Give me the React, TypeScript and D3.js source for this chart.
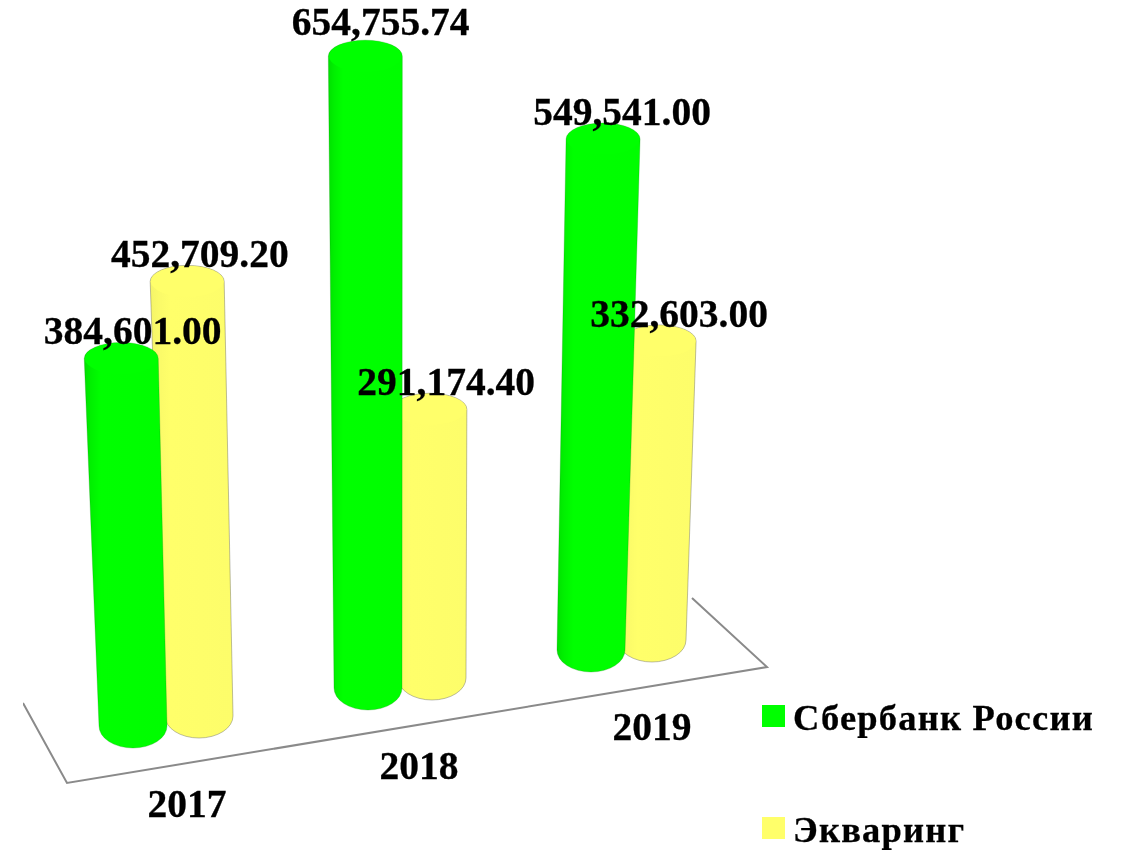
import React from 'react'
import * as d3 from 'd3'

const categories = ['2017', '2018', '2019']
const seriesNames = ['Сбербанк России', 'Экваринг']
const sberValues = [384601.0, 654755.74, 549541.0]
const acquiringValues = [452709.2, 291174.4, 332603.0]

const width = 1123
const height = 851
const font = '"Liberation Serif", "Times New Roman", serif'

// fake 3d: every year has its own scale because the floor is drawn in perspective
const heightScales = [
    d3.scaleLinear().domain([0, 700000]).range([27, 716]),
    d3.scaleLinear().domain([0, 700000]).range([16, 715]),
    d3.scaleLinear().domain([0, 700000]).range([12, 696]),
]
const idx = [0, 1, 2]
const baseX = [
    d3.scaleLinear().domain(idx).range([133, 368, 591]),
    d3.scaleLinear().domain(idx).range([199, 432, 652]),
]
const baseY = [
    d3.scaleLinear().domain(idx).range([748, 710, 672]),
    d3.scaleLinear().domain(idx).range([738, 700, 662]),
]
const leanScale = d3
    .scaleLinear()
    .domain([133, 199, 368, 432, 591, 652])
    .range([-0.029, -0.025, -0.004, -0.007, 0.022, 0.021])
const labelShift = d3.scaleLinear().domain([133, 652]).range([11.5, 20])
const yearX = d3.scaleLinear().domain(idx).range([187, 419, 652])
const yearY = d3.scaleLinear().domain(idx).range([817, 779, 740])
const legendY = d3.scalePoint<string>().domain(seriesNames).range([716, 828])

const topRx = 37
const topRy = 16
const bottomRx = 34
const bottomRy = 22

const fills = ['url(#sber)', 'url(#acq)']
const flat = ['#00ff00', '#ffff6a']
const edges = ['rgba(0,130,0,0.25)', 'rgba(110,110,90,0.45)']
const fmt = d3.format(',.2f')

function makeCylinder(s: number, i: number, value: number) {
    const bx = baseX[s](i)
    const bottomApex = baseY[s](i)
    const h = heightScales[i](value)
    const topApex = bottomApex - h
    const tx = bx + leanScale(bx) * h
    const ty = topApex + topRy
    const by = bottomApex - bottomRy
    const body =
        `M${tx - topRx},${ty} L${bx - bottomRx},${by} ` +
        `A${bottomRx},${bottomRy} 0 0 0 ${bx + bottomRx},${by} ` +
        `L${tx + topRx},${ty} A${topRx},${topRy} 0 0 0 ${tx - topRx},${ty} Z`
    return { bx, tx, ty, topApex, body }
}

function Cylinder({ s, i, value }: { s: number; i: number; value: number }) {
    const c = makeCylinder(s, i, value)
    return (
        <g>
            <path d={c.body} fill={fills[s]} stroke={edges[s]} strokeWidth={1} />
            <ellipse cx={c.tx} cy={c.ty} rx={topRx - 0.5} ry={topRy - 0.5} fill={flat[s]} />
        </g>
    )
}

function ValueLabel({ s, i, value }: { s: number; i: number; value: number }) {
    const c = makeCylinder(s, i, value)
    const dy = value > 600000 ? -5 : 2
    return (
        <text x={c.tx + labelShift(c.bx)} y={c.topApex + dy} textAnchor="middle" fontSize={39.5}>
            {fmt(value)}
        </text>
    )
}

export default function App() {
    const floor = d3.line()([[23, 703], [67, 783], [767, 667], [692, 598]]) as string
    return (
        <svg
            width={width}
            height={height}
            style={{ position: 'absolute', left: 0, top: 0, display: 'block' }}
            fontFamily={font}
            fontWeight="bold"
            fill="#000"
        >
            <defs>
                <linearGradient id="sber" x1="0" x2="1" y1="0" y2="0">
                    <stop offset="0" stopColor="#00e000" />
                    <stop offset="0.08" stopColor="#00f000" />
                    <stop offset="0.2" stopColor="#00ff00" />
                    <stop offset="1" stopColor="#00fd00" />
                </linearGradient>
                <linearGradient id="acq" x1="0" x2="1" y1="0" y2="0">
                    <stop offset="0" stopColor="#f4f468" />
                    <stop offset="0.1" stopColor="#fafa69" />
                    <stop offset="0.25" stopColor="#ffff6a" />
                    <stop offset="1" stopColor="#fdfd6a" />
                </linearGradient>
                <filter id="soft" x="0" y="0" width="100%" height="100%">
                    <feGaussianBlur stdDeviation="0.45" />
                </filter>
            </defs>
            <g filter="url(#soft)">
                <path d={floor} fill="none" stroke="#8a8a8a" strokeWidth={2} />
                {categories.map((c, i) => (
                    <g key={c}>
                        <Cylinder s={1} i={i} value={acquiringValues[i]} />
                        <Cylinder s={0} i={i} value={sberValues[i]} />
                    </g>
                ))}
                {categories.map((c, i) => (
                    <g key={c} stroke="#000" strokeWidth={0.3}>
                        <ValueLabel s={1} i={i} value={acquiringValues[i]} />
                        <ValueLabel s={0} i={i} value={sberValues[i]} />
                        <text x={yearX(i)} y={yearY(i)} textAnchor="middle" fontSize={39.5}>
                            {c}
                        </text>
                    </g>
                ))}
                {seriesNames.map((name, s) => (
                    <g key={name} transform={`translate(762,${legendY(name)})`}>
                        <rect x={0} y={-11} width={23} height={22} fill={flat[s]} />
                        <text x={31} y={13.5} fontSize={36.5} letterSpacing={1.2} stroke="#000" strokeWidth={0.3}>
                            {name}
                        </text>
                    </g>
                ))}
            </g>
        </svg>
    )
}
